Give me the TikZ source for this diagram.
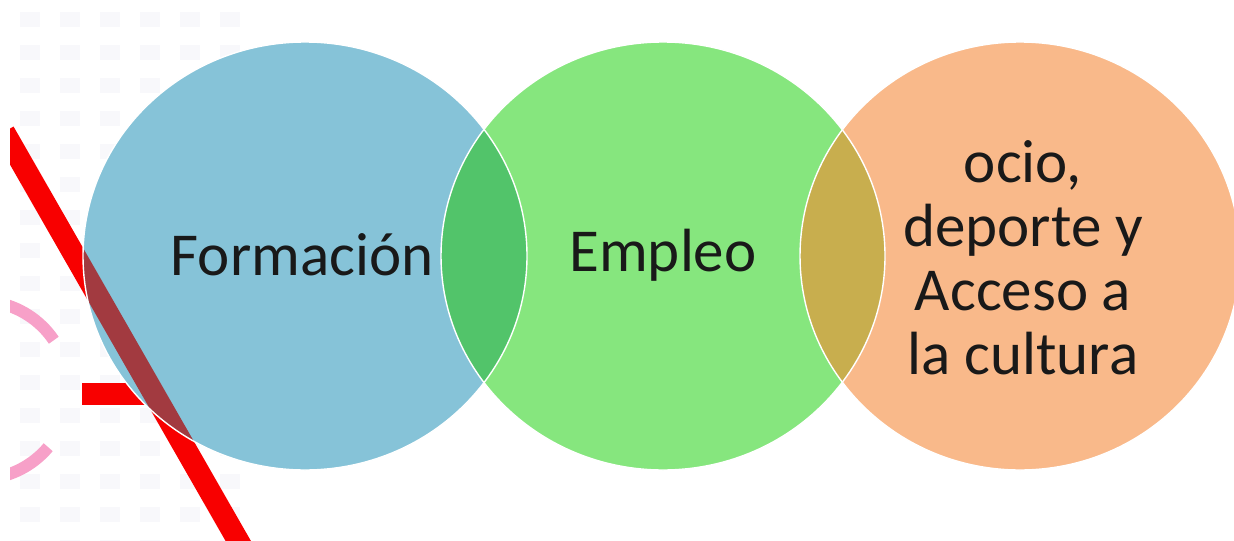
\documentclass[tikz,border=0pt]{standalone}
\usepackage{fontspec}
\setmainfont{Carlito}
\usepackage{tikz}
\usetikzlibrary{positioning}
\definecolor{formblue}{HTML}{86C3D8}
\definecolor{empgreen}{HTML}{86E67E}
\definecolor{ocioorange}{HTML}{F9B98A}
\definecolor{bluegreen}{HTML}{52C46A}
\definecolor{greenorange}{HTML}{C8AE4E}
\definecolor{barred}{HTML}{F80000}
\definecolor{arcpink}{HTML}{F7A0C8}
\definecolor{gridgray}{HTML}{F8F8FB}
\tikzstyle{bubble} = [draw=white, line width=0.7pt]
\tikzstyle{label} = [text=black!90, align=center, font=\fontsize{30.5}{32}\selectfont]
\tikzstyle{bar} = [draw=barred, line width=11pt]

\begin{document}
\begin{tikzpicture}[x=0.5pt, y=-0.5pt]
    \useasboundingbox (0,0) rectangle (1234,540);
    \fill[white] (0,0) rectangle (1234,540);

    % faint grid on the left
    \foreach \i in {0,...,5}
        \foreach \j in {0,...,16}
            \fill[gridgray] (20+40*\i,12+33*\j) rectangle ++(20,15);

    % red strokes and pink arc
    \begin{scope}
        \clip (10,0) rectangle (1234,540);
        \draw[bar] (4,132) -- (248,558);
        \draw[bar] (82,394) -- (150,394);
        \draw[arcpink, line width=6pt] (-20,390) ++(-80:89) arc[start angle=-80, end angle=-34, radius=89];
        \draw[arcpink, line width=6pt] (-20,390) ++(40:89) arc[start angle=40, end angle=80, radius=89];
    \end{scope}

    % circles
    \fill[formblue] (305,256) ellipse [x radius=222, y radius=214];
    \begin{scope}
        \clip (305,256) ellipse [x radius=222, y radius=214];
        \draw[draw=barred!70!black, line width=11pt, opacity=0.7] (4,132) -- (248,558);
    \end{scope}
    \fill[empgreen] (663,256) ellipse [x radius=222, y radius=214];
    \fill[ocioorange] (1020,256) ellipse [x radius=220, y radius=214];

    % overlaps
    \begin{scope}
        \clip (305,256) ellipse [x radius=222, y radius=214];
        \fill[bluegreen] (663,256) ellipse [x radius=222, y radius=214];
    \end{scope}
    \begin{scope}
        \clip (663,256) ellipse [x radius=222, y radius=214];
        \fill[greenorange] (1020,256) ellipse [x radius=220, y radius=214];
    \end{scope}

    \draw[bubble] (305,256) ellipse [x radius=222, y radius=214];
    \draw[bubble] (663,256) ellipse [x radius=222, y radius=214];
    \draw[bubble] (1020,256) ellipse [x radius=220, y radius=214];

    % texts
    \node[label] (formacion) at (302,255) {Formación};
    \node[label] (empleo) at (663,255) {Empleo};
    \node[label] (ocio) at (1023,258)
        {ocio,\\deporte y\\Acceso a\\la cultura};
\end{tikzpicture}
\end{document}
